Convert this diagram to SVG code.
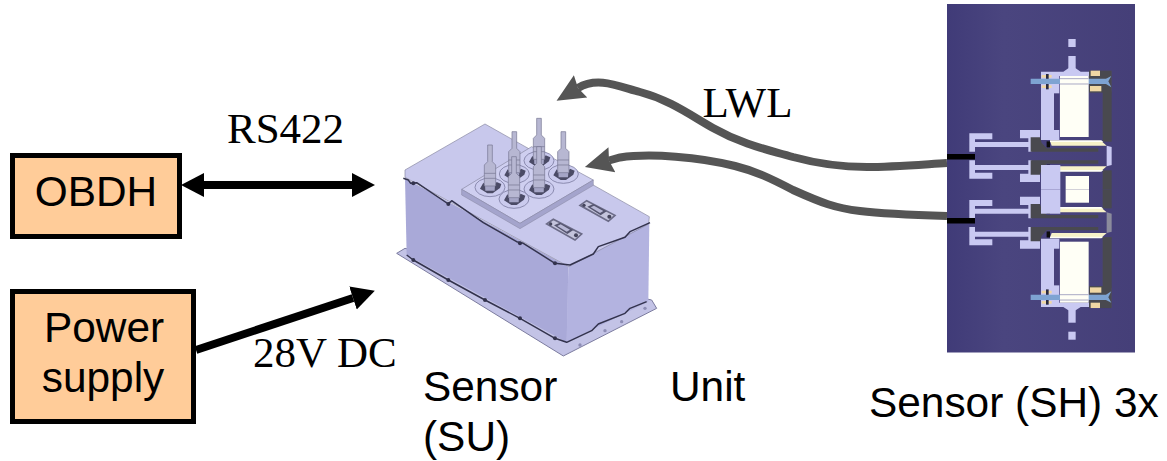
<svg xmlns="http://www.w3.org/2000/svg" xmlns:xlink="http://www.w3.org/1999/xlink" width="1167" height="461" viewBox="0 0 1167 461">
<style>
.box{fill:#ffcc99;stroke:#000;stroke-width:5}
.sans{font-family:"Liberation Sans",Arial,sans-serif;font-size:42.400px;fill:#000}
.serif{font-family:"Liberation Serif","Times New Roman",serif;font-size:43px;fill:#000}
.mid{text-anchor:middle}
.blk{fill:none;stroke:#000;stroke-width:8}
.gry{fill:none;stroke:#555;stroke-width:8;stroke-linecap:butt}
.seam{fill:none;stroke:#33334d;stroke-width:4.500;stroke-linejoin:round}
.lt{fill:#c9c9f2}
.bg{fill:#46417a}
.dk{fill:#4a4a50}
.wh{fill:#fffff6}
.cr{fill:#f7f2c8}
.tan{fill:#f0d7a4}
.bl{fill:#7ea3d2}
.hole{fill:#8d8db5}
</style>
<defs>
<marker id="hb" markerUnits="userSpaceOnUse" markerWidth="26" markerHeight="28" refX="0" refY="13" orient="auto-start-reverse"><path d="M0,1L23,13L0,25Z" fill="#000"/></marker>
<marker id="hg" markerUnits="userSpaceOnUse" markerWidth="32" markerHeight="32" refX="3" refY="16" orient="auto"><path d="M0,3L28,16L0,29L3,16Z" fill="#555"/></marker>
<linearGradient id="shbg" x1="0" x2="1" y1="0" y2="0"><stop offset="0" stop-color="#403b78"/><stop offset=".3" stop-color="#4a457f"/><stop offset="1" stop-color="#453f78"/></linearGradient>
<filter id="soft" x="-5%" y="-5%" width="110%" height="110%"><feGaussianBlur stdDeviation="0.5"/></filter>
<g id="plug">
<ellipse cx="0" cy="2" rx="45" ry="28" fill="#cbcbee" stroke="#7d7da2" stroke-width="2.500"/>
<path d="M-30,6L-20,-12L-8,2L8,2L20,-14L34,-8L30,4L8,20L-8,20Z" fill="#4c4c66"/>
<path d="M-15,-6L15,-6L14,12L-14,12Z" fill="#a5a5c6"/>
<path d="M-17,-2V-65L-7,-75V-125H7V-75L17,-65V-2Z" fill="#b7b7d2" stroke="#74748f" stroke-width="2"/>
<path d="M-17,-40H17M-17,-25H17" stroke="#74748f" stroke-width="2" fill="none"/>
</g>
<g id="socket">
<path d="M0,14L20,0L105,44L85,62Z" fill="#c4c4dc" stroke="#6c6c88" stroke-width="5"/>
<path d="M22,18L40,10L80,32L62,44Z" fill="#55556f"/>
<path d="M32,20L42,15L70,31L60,37Z" fill="#b8b8d6"/>
<circle cx="12" cy="14" r="5" fill="#44445c"/><circle cx="88" cy="48" r="6" fill="#44445c"/>
</g>
<g id="port">
<path class="lt" d="M88,400H157V418H105V426H265V415H240V390H300V415H275V455H265V441H105V455H88Z"/>
<path class="dk" d="M272,412H300L305,428L320,445H475V455H272Z"/>
<path class="cr" d="M330,423H484L500,437H335Z"/>
<path d="M330,421H484L490,426H330Z" fill="#fffff6"/>
<rect x="320" y="424" width="10" height="18" fill="#111"/>
</g>
<g id="shhalf">
<rect class="lt" x="385" y="117" width="22" height="24"/>
<rect class="lt" x="385" y="168" width="22" height="42"/>
<path class="lt" d="M303,215H370L385,205H407L422,215H450V228H358V420H303Z"/>
<rect class="bg" x="342" y="280" width="17" height="110"/>
<path class="dk" d="M447,212H515V278H447Z"/>
<rect class="dk" x="488" y="275" width="27" height="150"/>
<rect class="dk" x="488" y="511" width="27" height="57"/>
<rect class="tan" x="452" y="212" width="28" height="16"/>
<rect class="tan" x="450" y="258" width="34" height="16"/>
<rect class="tan" x="305" y="225" width="30" height="8"/>
<rect class="tan" x="305" y="256" width="30" height="8"/>
<rect x="318" y="222" width="8" height="46" fill="#2c2c40"/>
<path class="bl" d="M272,236H498L514,228L505,244L514,262L498,252H272Z"/>
<rect class="wh" x="360" y="228" width="86" height="183"/>
<path d="M360,236H446M360,252H446" stroke="#a9a9c4" stroke-width="3" fill="none"/>
<use xlink:href="#port" href="#port"/>
<use xlink:href="#port" href="#port" transform="translate(0,936) scale(1,-1)"/>
<rect class="lt" x="303" y="495" width="58" height="73"/>
<rect class="wh" x="377" y="528" width="70" height="40"/>
</g>
</defs>

<g id="connectors">
<line id="c-rs422" class="blk" x1="204" y1="185" x2="352" y2="185" marker-start="url(#hb)" marker-end="url(#hb)"/>
<line id="c-power" class="blk" x1="196" y1="350" x2="353" y2="298" marker-end="url(#hb)"/>
</g>

<g id="node-obdh">
<rect class="box" x="12.500" y="155.500" width="167" height="81"/>
<text class="sans mid" x="96" y="206">OBDH</text>
</g>
<g id="node-power">
<rect class="box" x="12.500" y="291.500" width="181" height="130"/>
<text class="sans mid" x="104" y="342">Power</text>
<text class="sans mid" x="103" y="392">supply</text>
</g>

<g id="node-su" transform="translate(380,100) scale(.33333)">
<g filter="url(#soft)">
<path d="M50,460L75,445L815,600L830,625L550,768Z" fill="#c3c3e6" stroke="#7a7a9e" stroke-width="3"/>
<path d="M75,235L565,500L560,727L80,465Z" fill="#a9a9d8"/>
<path d="M565,498L808,370L805,605L560,727Z" fill="#b3b3e0"/>
<path d="M75,210L315,72L808,350L806,372L566,500L75,232Z" fill="#c8c8ec" stroke="#85859f" stroke-width="2"/>
<path class="seam" d="M70,235L85,240L92,250L110,248L205,312L215,302L310,368L410,425L430,430L525,490L570,495L640,462L655,440L735,412L750,395L810,368"/>
<path class="seam" d="M80,465L100,480L205,540L315,600L420,655L525,715L560,727L635,692L655,672L735,640L750,625L800,605"/>
<circle cx="100" cy="480" r="6" fill="#33334d"/><circle cx="205" cy="540" r="6" fill="#33334d"/><circle cx="315" cy="600" r="6" fill="#33334d"/><circle cx="420" cy="655" r="6" fill="#33334d"/><circle cx="525" cy="715" r="6" fill="#33334d"/>
<circle cx="100" cy="250" r="6" fill="#33334d"/><circle cx="205" cy="312" r="6" fill="#33334d"/><circle cx="420" cy="430" r="6" fill="#33334d"/><circle cx="525" cy="490" r="6" fill="#33334d"/>
<circle class="hole" cx="600" cy="735" r="5"/><circle class="hole" cx="675" cy="692" r="5"/><circle class="hole" cx="725" cy="665" r="5"/><circle class="hole" cx="795" cy="625" r="5"/>
<path d="M245,268L455,140L640,240L420,370Z" fill="#cfcff0" stroke="#85859f" stroke-width="2"/>
<path d="M245,268L420,370L640,240V256L420,386L245,285Z" fill="#a4a4cc" stroke="#85859f" stroke-width="1.500"/>
<use xlink:href="#plug" href="#plug" transform="translate(477,180)"/>
<use xlink:href="#plug" href="#plug" transform="translate(403,220)"/>
<use xlink:href="#plug" href="#plug" transform="translate(550,220)"/>
<use xlink:href="#plug" href="#plug" transform="translate(330,260)"/>
<use xlink:href="#plug" href="#plug" transform="translate(477,265)"/>
<use xlink:href="#plug" href="#plug" transform="translate(402,295)"/>
<use xlink:href="#socket" href="#socket" transform="translate(500,358)"/>
<use xlink:href="#socket" href="#socket" transform="translate(600,302)"/>
</g>
</g>

<g id="node-sh">
<rect x="947" y="4" width="188" height="348.500" fill="url(#shbg)"/>
<g filter="url(#soft)">
<g transform="translate(940,0) scale(.33333)"><use xlink:href="#shhalf" href="#shhalf"/><path class="lt" d="M500,437L515,441V495L500,499Z"/></g>
<g transform="translate(0,378.700) scale(1,-1) translate(940,0) scale(.33333)"><use xlink:href="#shhalf" href="#shhalf"/><path d="M500,437L515,441V495L500,499Z" fill="#8b8b9c"/></g>
</g>
<rect x="947" y="154" width="28" height="5.500" fill="#000"/>
<rect x="947" y="218" width="28" height="5.500" fill="#000"/>
</g>

<g id="fibers">
<path class="gry" d="M947,163C915,165 890,167 867,167C840,167 815,163 793,157C770,150 745,146 713,128C690,115 670,100 640,92C620,87 598,76 578,88" marker-end="url(#hg)"/>
<path class="gry" d="M947,216C915,215 885,214 860,211C835,208 822,203 793,190C770,178 755,171 735,166C700,157 650,153 620,157.500L609,160.500" marker-end="url(#hg)"/>
</g>

<g id="labels">
<text class="serif" x="227" y="143">RS422</text>
<text class="serif" x="253" y="367">28V DC</text>
<text class="serif" x="702.500" y="117">LWL</text>
<text class="sans" x="423" y="401">Sensor</text>
<text class="sans" x="423" y="451">(SU)</text>
<text class="sans" x="670" y="401">Unit</text>
<text class="sans" x="869" y="417">Sensor (SH) 3x</text>
</g>
</svg>
